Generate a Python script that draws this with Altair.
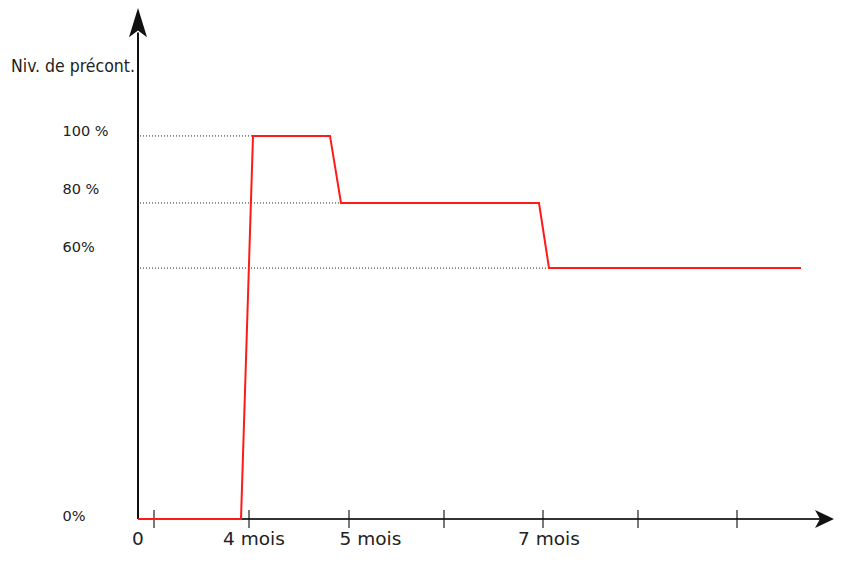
import altair as alt
import pandas as pd

# Red curve (abstract time units, level in %)
line_x = [0.0, 1.03, 1.15, 1.92, 2.03, 4.01, 4.11, 6.63]
line_y = [0, 0, 100, 100, 82.5, 82.5, 65.5, 65.5]

# Dotted guide lines
guide_y = [100, 82.5, 65.5]
guide_x_end = [1.15, 2.03, 4.11]

# Tick marks on the time axis
tick_x = [0.16, 1.11, 2.11, 3.06, 4.05, 5.00, 5.99]

# Time axis labels
xlab_text = ["0", "4 mois", "5 mois", "7 mois"]
xlab_x = [0.0, 1.16, 2.325, 4.11]

# Level labels
ylab_text = ["100 %", "80 %", "60%", "0%"]
ylab_y = [101.0, 85.8, 70.8, 0.5]

title_text = "Niv. de précont."

X_MAX = 6.97
Y_MAX = 133.4

xs = alt.Scale(domain=[0, X_MAX], nice=False, zero=False)
ys = alt.Scale(domain=[0, Y_MAX], nice=False, zero=False)

def X(field="x"):
    return alt.X(f"{field}:Q", scale=xs, axis=None)

def Y(field="y"):
    return alt.Y(f"{field}:Q", scale=ys, axis=None)

line_df = pd.DataFrame({"x": line_x, "y": line_y, "i": list(range(len(line_x)))})
guide_df = pd.DataFrame({"x": [0.02] * len(guide_y), "x2": guide_x_end, "y": guide_y})
tick_df = pd.DataFrame({"x": tick_x, "y": [0] * len(tick_x)})
xlab_df = pd.DataFrame({"x": xlab_x, "y": [-5.2] * len(xlab_x), "t": xlab_text})
ylab_df = pd.DataFrame({"x": [-0.755] * len(ylab_y), "y": ylab_y, "t": ylab_text})
title_df = pd.DataFrame({"x": [-0.03], "y": [118.0], "t": [title_text]})

yaxis_df = pd.DataFrame({"x": [0.0], "y": [0.0], "y2": [127.0]})
xaxis_df = pd.DataFrame({"x": [0.0], "x2": [6.84], "y": [0.0]})
yarrow_df = pd.DataFrame({"x": [0.0], "y": [129.5]})
xarrow_df = pd.DataFrame({"x": [6.86], "y": [0.0]})

guides = alt.Chart(guide_df).mark_rule(
    color="#222", strokeWidth=1, strokeDash=[1, 2]
).encode(x=X(), x2="x2:Q", y=Y())

yaxis = alt.Chart(yaxis_df).mark_rule(color="#111", strokeWidth=2).encode(
    x=X(), y=Y(), y2="y2:Q"
)
xaxis = alt.Chart(xaxis_df).mark_rule(color="#333", strokeWidth=1.8).encode(
    x=X(), x2="x2:Q", y=Y()
)

ticks = alt.Chart(tick_df).mark_tick(
    orient="vertical", size=18, thickness=1.6, color="#111"
).encode(x=X(), y=Y())

yarrow = alt.Chart(yarrow_df).mark_point(
    shape="M0,-1 L0.6,0.95 L0,0.5 L-0.6,0.95 Z",
    size=900, filled=True, color="#111", opacity=1
).encode(x=X(), y=Y())

xarrow = alt.Chart(xarrow_df).mark_point(
    shape="M1,0 L-0.9,-0.9 L-0.4,0 L-0.9,0.9 Z",
    size=400, filled=True, color="#111", opacity=1
).encode(x=X(), y=Y())

red = alt.Chart(line_df).mark_line(color="#ff1a1a", strokeWidth=2).encode(
    x=X(), y=Y(), order="i:Q"
)

xlabels = alt.Chart(xlab_df).mark_text(
    font="DejaVu Sans", fontSize=18.5, color="#222", align="center", baseline="middle"
).encode(x=X(), y=Y(), text="t:N")

ylabels = alt.Chart(ylab_df).mark_text(
    font="DejaVu Sans", fontSize=14.5, color="#222", align="left", baseline="middle"
).encode(x=X(), y=Y(), text="t:N")

title = alt.Chart(title_df).mark_text(
    font="DejaVu Sans Condensed, Liberation Sans Narrow, DejaVu Sans",
    fontSize=17.5, color="#222", align="right", baseline="middle"
).encode(x=X(), y=Y(), text="t:N")

chart = alt.layer(
    guides, xaxis, yaxis, ticks, yarrow, xarrow, red, xlabels, ylabels, title
).properties(
    width=697,
    height=511,
    autosize=alt.AutoSizeParams(type="none"),
    padding={"left": 130, "top": 0, "right": 0, "bottom": 32},
    background="white",
).configure_view(strokeWidth=0)

chart.save("out.html", embed_options={"renderer": "svg", "actions": False})
